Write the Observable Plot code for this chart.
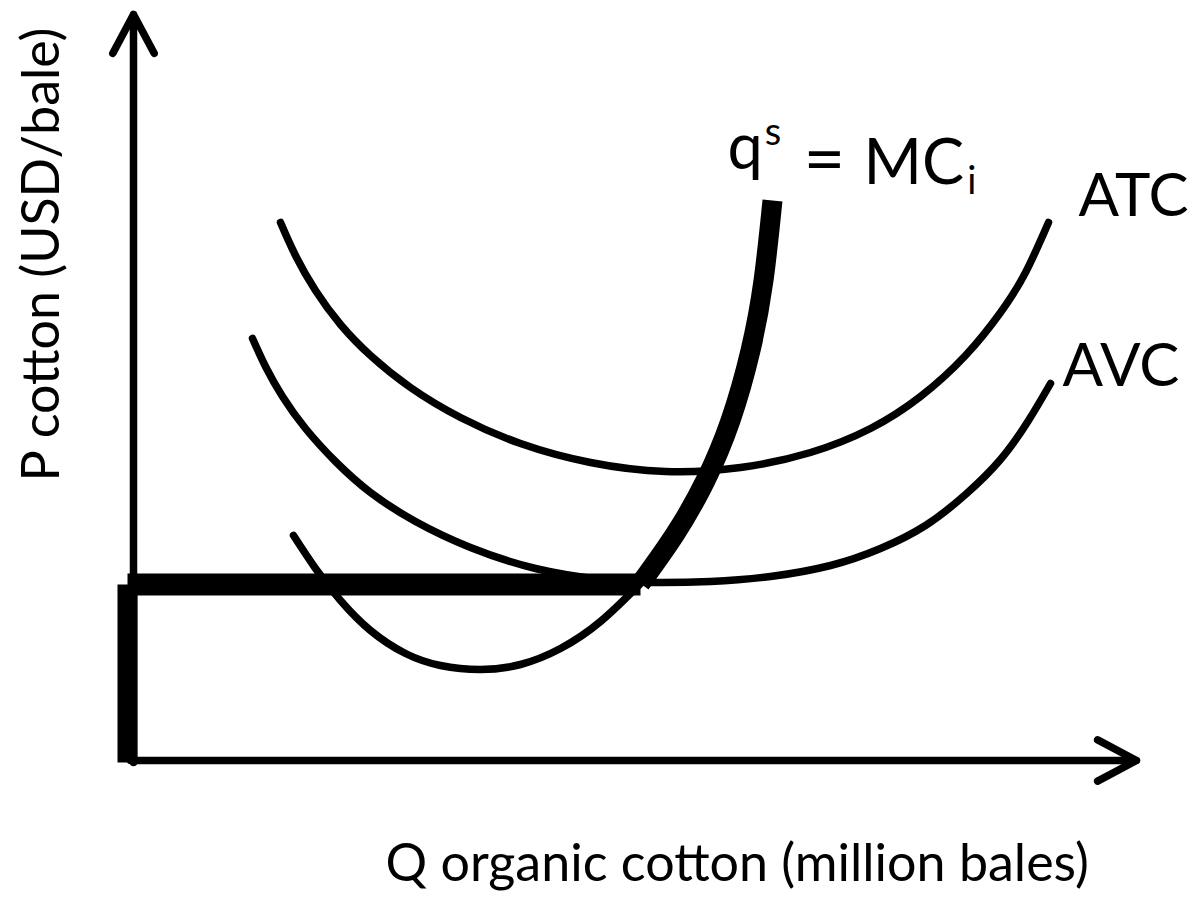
<!DOCTYPE html>
<html>
<head>
<meta charset="utf-8">
<script src="https://cdn.jsdelivr.net/npm/d3@7"></script>
<script src="https://cdn.jsdelivr.net/npm/@observablehq/plot@0.6"></script>
<style>
  body { margin: 0; background: #fff; }
  #chart svg { display: block; }
</style>
</head>
<body>
<div id="chart"></div>
<script>
// Q = quantity (million bales), P = price (USD/bale), diagram units
const atcCurve = [[1.47,5.38],[1.62,5.05],[1.82,4.70],[2.07,4.36],[2.37,4.05],[2.77,3.73],[3.27,3.43],[3.87,3.17],[4.57,2.98],[5.32,2.89],[6.07,2.93],[6.77,3.08],[7.37,3.32],[7.87,3.64],[8.32,4.05],[8.67,4.48],[8.92,4.88],[9.15,5.38]];
const avcCurve = [[1.19,4.22],[1.32,3.94],[1.49,3.64],[1.72,3.32],[2.02,2.99],[2.37,2.68],[2.82,2.39],[3.37,2.13],[4.02,1.92],[4.67,1.81],[5.17,1.78],[5.77,1.79],[6.37,1.84],[6.97,1.95],[7.47,2.12],[7.92,2.35],[8.32,2.66],[8.67,3.01],[8.95,3.40],[9.17,3.77]];
const mcLower = [[1.60,2.25],[1.82,1.92],[2.07,1.60],[2.37,1.30],[2.72,1.07],[3.07,0.95],[3.47,0.91],[3.87,0.96],[4.27,1.12],[4.67,1.39],[5.07,1.77]];
const supplyUpper = [[5.07,1.77],[5.42,2.27],[5.72,2.80],[5.97,3.40],[6.17,4.10],[6.30,4.80],[6.39,5.60]];
// shutdown-price segment and zero-output segment of the supply curve
const supplyFlat = [[-0.06,1.76],[5.07,1.76]];
const supplyZero = [[-0.06,1.76],[-0.06,-0.02]];
// axes
const axes = [
  {x1: 0, y1: -0.02, x2: 0, y2: 7.46},
  {x1: -0.03, y1: 0, x2: 10.03, y2: 0}
];
// labels
const curveLabels = [
  {q: 9.45, p: 5.45, text: "ATC"},
  {q: 9.29, p: 3.75, text: "AVC"}
];
const supplyLabel = [{q: 5.94, p: 5.92, text: "qs = MCi"}];
const xTitle = [{q: 2.52, p: -1.20, text: "Q organic cotton (million bales)"}];
const yTitle = [{q: -0.75, p: 5.06, text: "P cotton (USD/bale)"}];

const X = d => d[0], Y = d => d[1];
const thin = 7.5, thick = 20;

const chart = Plot.plot({
  width: 1195,
  height: 898,
  margin: 0,
  x: {domain: [-1.33, 10.62], axis: null},
  y: {domain: [-1.38, 7.60], axis: null},
  style: {fontFamily: "Lato", background: "#fff", color: "#000", overflow: "visible"},
  marks: [
    Plot.arrow(axes, {x1: "x1", y1: "y1", x2: "x2", y2: "y2", stroke: "#000", strokeWidth: 7.5, headLength: 8.8, headAngle: 56, strokeLinecap: "round", strokeLinejoin: "round"}),
    Plot.line(atcCurve, {x: X, y: Y, curve: "natural", stroke: "#000", strokeWidth: thin}),
    Plot.line(avcCurve, {x: X, y: Y, curve: "natural", stroke: "#000", strokeWidth: thin}),
    Plot.line(mcLower, {x: X, y: Y, curve: "natural", stroke: "#000", strokeWidth: thin}),
    Plot.line(supplyUpper, {x: X, y: Y, curve: "natural", stroke: "#000", strokeWidth: thick, strokeLinecap: "butt"}),
    Plot.line(supplyFlat, {x: X, y: Y, stroke: "#000", strokeWidth: thick + 2, strokeLinecap: "butt"}),
    Plot.line(supplyZero, {x: X, y: Y, stroke: "#000", strokeWidth: thick, strokeLinecap: "butt"}),
    Plot.text(curveLabels, {x: "q", y: "p", text: "text", textAnchor: "start", lineAnchor: "bottom", fontSize: 60, fill: "#000"}),
    Plot.text(supplyLabel, {x: "q", y: "p", text: "text", textAnchor: "start", lineAnchor: "bottom", fontSize: 63, fill: "#000"}),
    Plot.text(xTitle, {x: "q", y: "p", text: "text", textAnchor: "start", lineAnchor: "bottom", fontSize: 52, fill: "#000"}),
    Plot.text(yTitle, {x: "q", y: "p", text: "text", textAnchor: "middle", lineAnchor: "bottom", rotate: -90, fontSize: 52, fill: "#000"})
  ]
});

// superscript / subscript for the supply-curve label
chart.querySelectorAll("text").forEach(t => {
  if (t.textContent === "qs = MCi") {
    t.textContent = "";
    const ns = "http://www.w3.org/2000/svg";
    const add = (s, attrs) => {
      const ts = document.createElementNS(ns, "tspan");
      ts.textContent = s;
      for (const k in attrs) ts.setAttribute(k, attrs[k]);
      t.appendChild(ts);
    };
    add("q", {});
    add("s", {"font-size": "38", dy: "-0.62em", dx: "2"});
    add(" ", {dy: "0.62em", dx: "6"});
    add("= ", {"font-size": "72"});
    add("MC", {});
    add("i", {"font-size": "38", dy: "0.25em", dx: "3"});
  }
});

document.getElementById("chart").appendChild(chart);
</script>
</body>
</html>
